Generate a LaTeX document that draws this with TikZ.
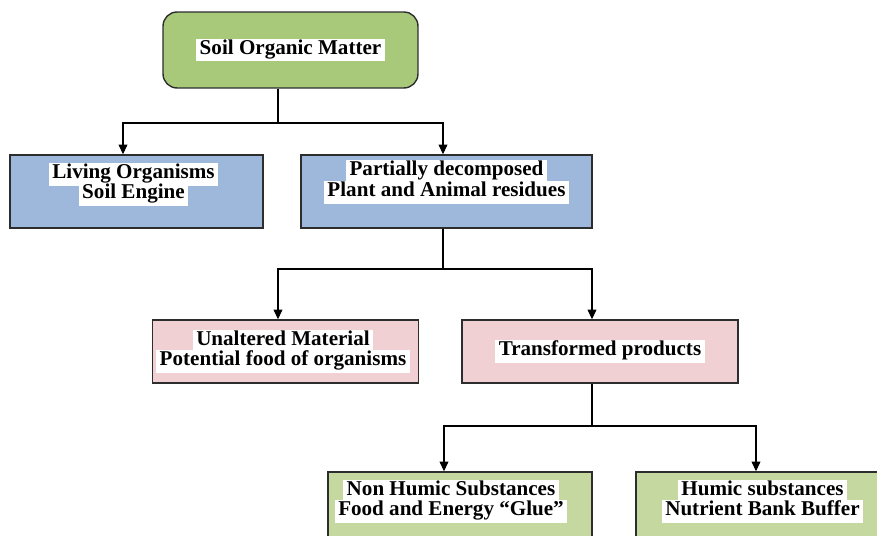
\documentclass[tikz,border=0pt]{standalone}
\usepackage{fontspec}
\setmainfont{Liberation Serif}
\usepackage{xcolor}
\usepackage{tikz}
\usetikzlibrary{arrows.meta}

\definecolor{somgreen}{RGB}{168,200,122}
\definecolor{lowgreen}{RGB}{197,216,160}
\definecolor{boxblue}{RGB}{158,184,219}
\definecolor{boxpink}{RGB}{240,208,210}
\definecolor{edgegray}{RGB}{45,45,45}

% white highlight behind each text line
\newcommand{\hlt}[1]{{\setlength{\fboxsep}{0.6pt}\colorbox{white}{\strut\kern1.5pt #1\kern1.5pt}}}
% invisible depth, pushes the text up inside its box
\newcommand{\lift}[1]{\rule[-#1]{0pt}{#1}}

\begin{document}
\begin{tikzpicture}[
    x=0.02cm, y=-0.02cm,
    box/.style={rectangle, draw=edgegray, line width=0.8pt, minimum height=1.46cm, align=center, inner sep=2pt, font={\bfseries\fontsize{12}{11.6}\selectfont\lineskiplimit=-20pt}},
    arrow/.style={-{Triangle[length=5.5pt,width=5pt]}, line width=0.6pt, draw=black}
]

\useasboundingbox (0,0) rectangle (877,536);
\clip (0,0) rectangle (877,536);

\node[box, fill=somgreen, rounded corners=8pt, minimum width=5.1cm, minimum height=1.52cm] (som) at (290.5,50) {\hlt{Soil Organic Matter}};
\node[box, fill=boxblue, minimum width=5.06cm] (living) at (136.5,191.5) {\hlt{Living Organisms}\hspace*{0.12cm}\\\hlt{Soil Engine}\hspace*{0.12cm}\lift{12pt}};
\node[box, fill=boxblue, minimum width=5.82cm] (partial) at (446.5,191.5) {\hlt{Partially decomposed}\\\hlt{Plant and Animal residues}\lift{15pt}};
\node[box, fill=boxpink, minimum width=5.3cm, minimum height=1.26cm] (unaltered) at (285.5,351.5) {\hlt{Unaltered Material}\hspace*{0.1cm}\\\hlt{Potential food of organisms}\hspace*{0.1cm}};
\node[box, fill=boxpink, minimum width=5.52cm, minimum height=1.26cm] (transformed) at (600,351.5) {\hlt{Transformed products}};
\node[box, fill=lowgreen, minimum width=5.28cm] (nonhumic) at (460,508.5) {\hlt{Non Humic Substances}\hspace*{0.36cm}\\\hlt{Food and Energy “Glue”}\hspace*{0.36cm}\lift{12pt}};
\node[box, fill=lowgreen, minimum width=5.06cm] (humic) at (762.5,508.5) {\hlt{Humic substances}\\\hlt{Nutrient Bank Buffer}\lift{12pt}};

% split points of the three branchings
\coordinate (split1) at (278,123);
\coordinate (drop1l) at (123,123);
\coordinate (drop1r) at (443,123);
\coordinate (split2) at (443,269);
\coordinate (drop2l) at (278,269);
\coordinate (drop2r) at (592,269);
\coordinate (split3) at (592,426);
\coordinate (drop3l) at (444,426);
\coordinate (drop3r) at (756,426);

\draw[arrow] (som.south -| split1) |- (drop1l) -- (living.north -| drop1l);
\draw[arrow] (som.south -| split1) |- (drop1r) -- (partial.north -| drop1r);
\draw[arrow] (partial.south -| split2) |- (drop2l) -- (unaltered.north -| drop2l);
\draw[arrow] (partial.south -| split2) |- (drop2r) -- (transformed.north -| drop2r);
\draw[arrow] (transformed.south -| split3) |- (drop3l) -- (nonhumic.north -| drop3l);
\draw[arrow] (transformed.south -| split3) |- (drop3r) -- (humic.north -| drop3r);

\end{tikzpicture}
\end{document}
